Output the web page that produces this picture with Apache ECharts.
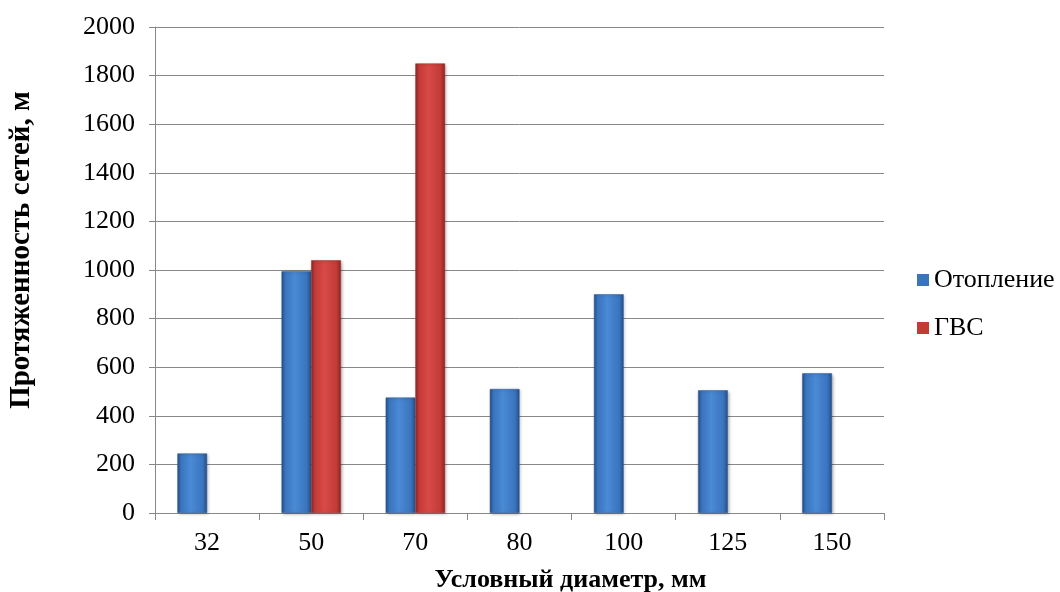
<!DOCTYPE html>
<html><head><meta charset="utf-8">
<script src="https://cdn.jsdelivr.net/npm/echarts@6/dist/echarts.min.js"></script>
<style>html,body{margin:0;padding:0;background:#fff}#c{width:1060px;height:592px}</style>
</head><body><div id="c"></div>
<script>
const categories = ['32','50','70','80','100','125','150'];
const heating = [245, 995, 475, 510, 900, 505, 575];
const hotWater = [null, 1040, 1850, null, null, null, null];
const seriesNames = ['Отопление','ГВС'];

const font = 'Liberation Serif';
function grad(light, mid, dark){
  return new echarts.graphic.LinearGradient(0,0,1,0,[
    {offset:0,color:dark},{offset:0.12,color:mid},{offset:0.45,color:light},{offset:0.85,color:mid},{offset:1,color:dark}
  ]);
}
const chart = echarts.init(document.getElementById('c'));
chart.setOption({
  animation:false,
  backgroundColor:'#fff',
  textStyle:{fontFamily:font},
  grid:{left:155,right:176,top:27,bottom:79,containLabel:false,outerBoundsMode:'none'},
  legend:{
    orient:'vertical', left:917, top:267, padding:0, itemGap:22, itemWidth:12, itemHeight:12,
    icon:'rect',
    itemStyle:{borderWidth:0,shadowBlur:0},
    textStyle:{fontFamily:font,fontSize:26,color:'#000'},
    data:[{name:seriesNames[0],itemStyle:{color:'#3a74bd'}},{name:seriesNames[1],itemStyle:{color:'#c23b37'}}]
  },
  xAxis:{
    type:'category', data:categories,
    name:'Условный диаметр, мм', nameLocation:'middle', nameGap:54,
    nameTextStyle:{fontFamily:font,fontSize:26,fontWeight:'bold',color:'#000',padding:[0,0,0,102]},
    axisLine:{lineStyle:{color:'#888',width:1}},
    axisTick:{show:true,length:7,lineStyle:{color:'#888'}},
    axisLabel:{fontFamily:font,fontSize:26,color:'#000',margin:17}
  },
  yAxis:{
    type:'value', min:0, max:2000, interval:200,
    name:'Протяженность сетей, м', nameLocation:'middle', nameGap:119,
    nameTextStyle:{fontFamily:font,fontSize:29,fontWeight:'bold',color:'#000',padding:[0,0,0,40]},
    axisLine:{show:true,lineStyle:{color:'#888'}},
    axisTick:{show:true,length:6,lineStyle:{color:'#888'}},
    axisLabel:{fontFamily:font,fontSize:26,color:'#000',margin:20,formatter:v=>String(v)},
    splitLine:{lineStyle:{color:'#888',width:1}}
  },
  series:[
    {name:seriesNames[0], type:'bar', data:heating, barGap:'0%', barCategoryGap:'43%',
     itemStyle:{color:grad('#4a8ad6','#3a74bd','#25508a'),borderColor:'#2b5a96',borderWidth:0.5,
       shadowColor:'rgba(0,0,0,0.3)',shadowBlur:3,shadowOffsetX:1,shadowOffsetY:1}},
    {name:seriesNames[1], type:'bar', data:hotWater, barGap:'0%', barCategoryGap:'43%',
     itemStyle:{color:grad('#d84a46','#c23b37','#8e2523'),borderColor:'#9a2c29',borderWidth:0.5,
       shadowColor:'rgba(0,0,0,0.3)',shadowBlur:3,shadowOffsetX:1,shadowOffsetY:1}}
  ]
});
</script></body></html>
